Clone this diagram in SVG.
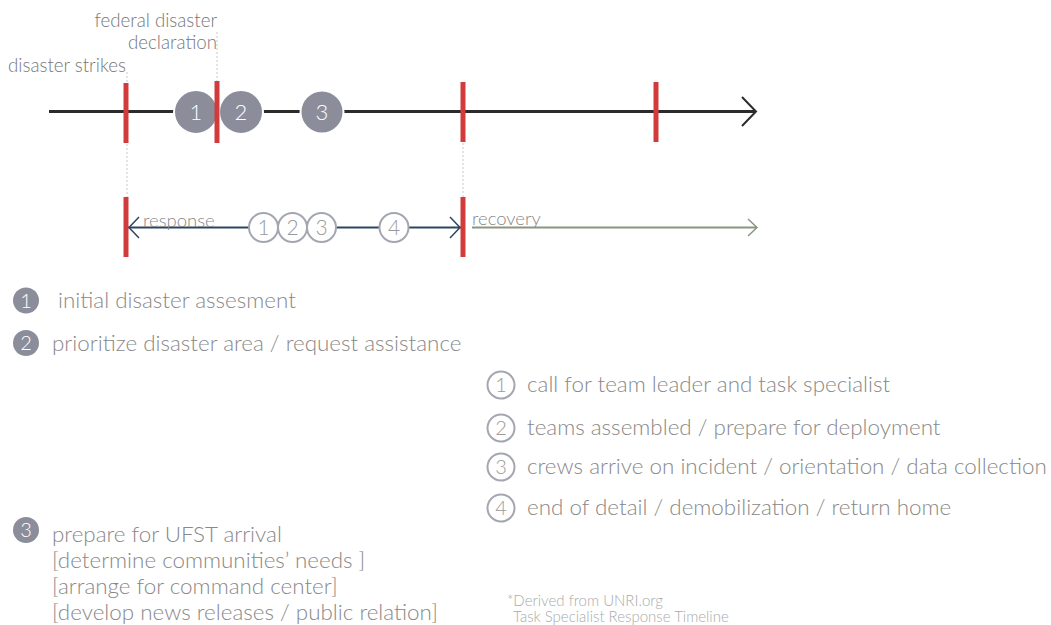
<svg xmlns="http://www.w3.org/2000/svg" width="1051" height="625" viewBox="0 0 1051 625">
<style>
  .lbl { font-family: Lato, "Open Sans", "Liberation Sans", sans-serif; font-weight: 300; fill: #888; }
  .top { font-size: 18.7px; fill: #777; }
  .leg { font-size: 22.4px; }
  .note { font-size: 15px; fill: #aaa; }
  .tick { stroke: #d23b3b; stroke-width: 5; fill: none; }
  .dot { stroke: #c8c8c8; stroke-width: 1; stroke-dasharray: 2 2; fill: none; }
  .fc { fill: #8b8d9b; stroke: #fff; stroke-width: 2; }
  .fcs { fill: #8b8d9b; }
  .fn { font-family: Lato, "Open Sans", "Liberation Sans", sans-serif; font-weight: 300; fill: #fff; text-anchor: middle; }
  .oc { fill: #fff; stroke: #a4a7b1; stroke-width: 2; }
  .on { font-family: Lato, "Open Sans", "Liberation Sans", sans-serif; font-weight: 300; fill: #9a9a9a; text-anchor: middle; }
</style>

<g id="connectors">
  <line x1="127" y1="72" x2="127" y2="197" class="dot"/>
  <line x1="217" y1="32" x2="217" y2="81" class="dot"/>
  <line x1="463" y1="143" x2="463" y2="197" class="dot"/>
  <line x1="49" y1="111.5" x2="756" y2="111.5" stroke="#2b2b2b" stroke-width="3"/>
  <polyline points="742,97 756,111.5 742,126" fill="none" stroke="#2b2b2b" stroke-width="2"/>
  <line x1="128" y1="227.5" x2="461" y2="227.5" stroke="#2c4661" stroke-width="2"/>
  <polyline points="139,217 129,227.5 139,238" fill="none" stroke="#2c4661" stroke-width="1.5"/>
  <polyline points="450,217 460,227.5 450,238" fill="none" stroke="#2c4661" stroke-width="1.5"/>
  <line x1="472" y1="227.5" x2="757" y2="227.5" stroke="#8b957f" stroke-width="2"/>
  <polyline points="748,219 757,227.5 748,236" fill="none" stroke="#8b957f" stroke-width="1.5"/>
</g>

<g id="label-disaster-strikes"><text x="8" y="72" class="lbl top">disaster strikes</text></g>
<g id="label-federal"><text x="217" y="27" class="lbl top" text-anchor="end">federal disaster</text><text x="217" y="49" class="lbl top" text-anchor="end">declaration</text></g>

<g id="main-c1"><circle cx="196" cy="112" r="22" class="fc"/><text x="196" y="120" class="fn" font-size="22">1</text></g>
<g id="main-c2"><circle cx="241" cy="112" r="22" class="fc"/><text x="241" y="120" class="fn" font-size="22">2</text></g>
<g id="main-c3"><circle cx="322" cy="112" r="21.5" class="fc"/><text x="322" y="120" class="fn" font-size="22">3</text></g>

<g id="ticks">
  <line x1="126" y1="83" x2="126" y2="143" class="tick"/>
  <line x1="217" y1="81" x2="217" y2="143" class="tick"/>
  <line x1="463" y1="82" x2="463" y2="142" class="tick"/>
  <line x1="656" y1="82" x2="656" y2="142" class="tick"/>
  <line x1="126" y1="197" x2="126" y2="257" class="tick"/>
  <line x1="463" y1="197" x2="463" y2="257" class="tick"/>
</g>

<g id="label-response"><text x="143" y="227" class="lbl" font-size="18.5">response</text></g>
<g id="label-recovery"><text x="472" y="225" class="lbl" font-size="18.5">recovery</text></g>

<g id="sub-c1"><circle cx="263.5" cy="227.5" r="14.5" class="oc"/><text x="263.5" y="235" class="on" font-size="21">1</text></g>
<g id="sub-c2"><circle cx="292.5" cy="227.5" r="14.5" class="oc"/><text x="292.5" y="235" class="on" font-size="21">2</text></g>
<g id="sub-c3"><circle cx="321.5" cy="227.5" r="14.5" class="oc"/><text x="321.5" y="235" class="on" font-size="21">3</text></g>
<g id="sub-c4"><circle cx="394" cy="227.5" r="14.5" class="oc"/><text x="394" y="235" class="on" font-size="21">4</text></g>

<g id="legend-1"><circle cx="26" cy="300.5" r="13" class="fcs"/><text x="26" y="307.5" class="fn" font-size="20">1</text><text x="58" y="308" class="lbl leg">initial disaster assesment</text></g>
<g id="legend-2"><circle cx="26" cy="343" r="13" class="fcs"/><text x="26" y="350" class="fn" font-size="20">2</text><text x="52" y="351" class="lbl leg">prioritize disaster area / request assistance</text></g>
<g id="legend-3"><circle cx="26" cy="530" r="13" class="fcs"/><text x="26" y="537" class="fn" font-size="20">3</text>
  <text class="lbl leg"><tspan x="52" y="542">prepare for UFST arrival</tspan><tspan x="52" y="568">[determine communities’ needs ]</tspan><tspan x="52" y="594">[arrange for command center]</tspan><tspan x="52" y="620">[develop news releases / public relation]</tspan></text></g>

<g id="legend-r1"><circle cx="501" cy="385" r="13.5" class="oc"/><text x="501" y="392" class="on" font-size="20">1</text><text x="527" y="392" class="lbl leg">call for team leader and task specialist</text></g>
<g id="legend-r2"><circle cx="501" cy="428" r="13.5" class="oc"/><text x="501" y="435" class="on" font-size="20">2</text><text x="527" y="435" class="lbl leg">teams assembled / prepare for deployment</text></g>
<g id="legend-r3"><circle cx="501" cy="467" r="13.5" class="oc"/><text x="501" y="474" class="on" font-size="20">3</text><text x="527" y="474" class="lbl leg">crews arrive on incident / orientation / data collection</text></g>
<g id="legend-r4"><circle cx="501" cy="508" r="13.5" class="oc"/><text x="501" y="515" class="on" font-size="20">4</text><text x="527" y="515" class="lbl leg">end of detail / demobilization / return home</text></g>

<g id="note"><text x="507" y="606" class="lbl note">*Derived from UNRI.org</text><text x="513" y="622" class="lbl note">Task Specialist Response Timeline</text></g>
</svg>
